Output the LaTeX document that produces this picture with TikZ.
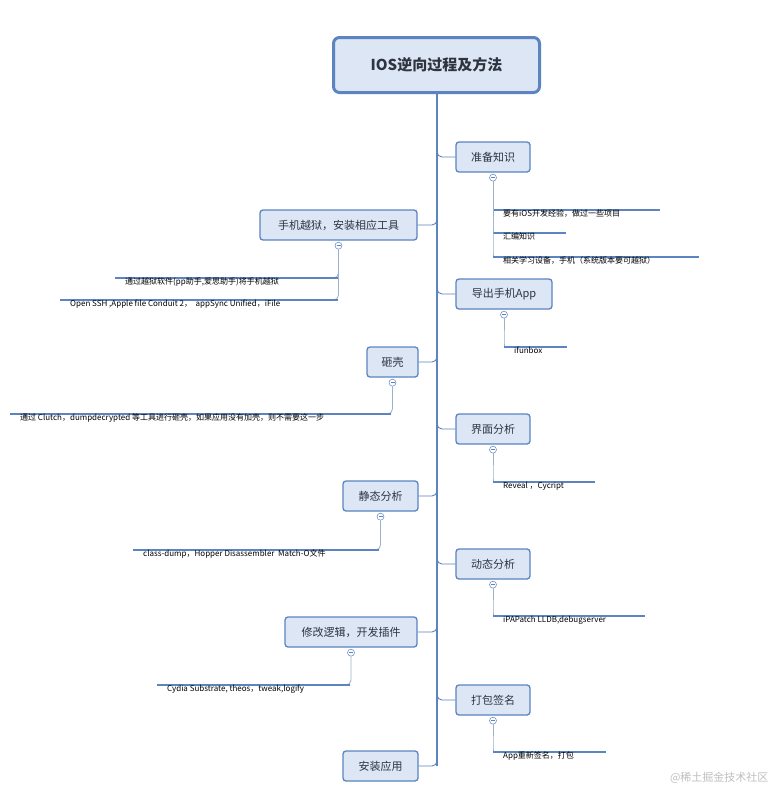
\documentclass[tikz,border=0pt]{standalone}
\usepackage{fontspec}
\setmainfont{Noto Sans CJK SC}
\begin{document}
\begin{tikzpicture}[x=1pt,y=-1pt,
  topic/.style={draw=nodeb,fill=nodef,line width=1.3pt,rounded corners=3pt,font=\fontsize{11}{12}\selectfont,text=txt,inner sep=0pt},
  root/.style={draw=nodeb,fill=nodef,line width=3pt,rounded corners=6pt,font=\bfseries\fontsize{15}{17}\selectfont,text=txt,minimum width=206pt,minimum height=55pt},
  fold/.style={circle,draw=nodeb,fill=white,line width=0.5pt,minimum size=7pt,inner sep=0pt},
  trunk/.style={draw=nodeb,line width=1.6pt},
  twig/.style={draw=linkc,line width=0.8pt,rounded corners=5pt},
  uline/.style={draw=nodeb,line width=2.2pt},
  leaf/.style={font=\fontsize{8}{9}\selectfont,inner sep=0pt,anchor=base west}
]
\definecolor{nodeb}{HTML}{5B84C0}
\definecolor{nodef}{HTML}{DCE6F5}
\definecolor{txt}{HTML}{2E3440}
\definecolor{linkc}{HTML}{9AB0CE}
\useasboundingbox (0,0) rectangle (778,809);
\fill[white] (0,0) rectangle (778,809);
% trunk
\coordinate (tt) at (437,93);
\coordinate (tb) at (437,766);
\draw[trunk] (tt) -- (tb);
\node[root] (R) at (436.5,65) {IOS逆向过程及方法};
% helper for topics
\newcommand{\topicnode}[6]{\node[topic,minimum width=#4pt,minimum height=30pt] (#1) at (#2,#3) {#5};}
\topicnode{a}{493}{157}{74}{准备知识}{}
\topicnode{b}{504}{294}{96}{导出手机App}{}
\topicnode{c}{493}{429}{74}{界面分析}{}
\topicnode{d}{493}{564}{74}{动态分析}{}
\topicnode{e}{493}{700}{74}{打包签名}{}
\topicnode{f}{338.5}{225}{157}{手机越狱，安装相应工具}{}
\topicnode{g}{392.5}{362}{51}{砸壳}{}
\topicnode{h}{380.5}{496}{75}{静态分析}{}
\topicnode{i}{351}{632}{132}{修改逻辑，开发插件}{}
\topicnode{j}{380.5}{766}{75}{安装应用}{}
% trunk branches
\foreach \n in {a,b,c,d,e}{\draw[trunk,line width=0.9pt,rounded corners=5pt] (437,0 |- \n.west) ++(0,-6) |- (\n.west);}
\foreach \n in {f,g,h,i,j}{\draw[trunk,line width=0.9pt,rounded corners=5pt] (437,0 |- \n.east) ++(0,-6) |- (\n.east);}
% fold circles
\foreach \n in {a,b,c,d,e,f,g,h,i}{\node[fold] (\n o) at ([yshift=-5pt]\n.south) {}; \draw[nodeb,line width=0.5pt] ([xshift=-2pt]\n o.center) -- ([xshift=2pt]\n o.center);}
% right leaves
\newcommand{\rleaf}[6]{%
 \coordinate (#1s) at (#3,#4); \coordinate (#1e) at (#5,#4);
 \draw[twig] (#2o.south) |- (#1s);
 \draw[uline] (#1s) -- (#1e);
 \node[leaf] (#1t) at ([xshift=10pt,yshift=-6pt]#1s) {#6};}
\rleaf{a1}{a}{493}{210}{660}{要有iOS开发经验，做过一些项目}
\rleaf{a2}{a}{493}{233}{566}{汇编知识}
\rleaf{a3}{a}{493}{257}{699}{相关学习设备，手机（系统版本要可越狱）}
\rleaf{b1}{b}{504}{347}{567}{ifunbox}
\rleaf{c1}{c}{493}{482}{595}{Reveal ，Cycript}
\rleaf{d1}{d}{493}{616}{645}{iPAPatch LLDB,debugserver}
\rleaf{e1}{e}{493}{752}{606}{App重新签名，打包}
% left leaves
\newcommand{\lleaf}[6]{%
 \coordinate (#1s) at (#3,#4); \coordinate (#1e) at (#5,#4);
 \draw[twig] (#2o.south) |- (#1s);
 \draw[uline] (#1s) -- (#1e);
 \node[leaf] (#1t) at ([xshift=10pt,yshift=-6pt]#1e) {#6};}
\lleaf{f1}{f}{338}{278}{115}{通过越狱软件(pp助手,爱思助手)将手机越狱}
\lleaf{f2}{f}{338}{300}{60}{Open SSH ,Apple file Conduit 2，\ \ appSync Unified，iFile}
\lleaf{g1}{g}{391}{414}{10}{通过 Clutch，dumpdecrypted 等工具进行砸壳，如果应用没有加壳，则不需要这一步}
\lleaf{h1}{h}{379}{550}{133}{class-dump，Hopper Disassembler\ \ Match-O文件}
\lleaf{i1}{i}{350}{685}{157}{Cydia Substrate, theos，tweak,logify}
% watermark
\node[font=\fontsize{11}{12}\selectfont,text=black!25,anchor=east] (wm) at (772,778) {@稀土掘金技术社区};
\end{tikzpicture}
\end{document}
